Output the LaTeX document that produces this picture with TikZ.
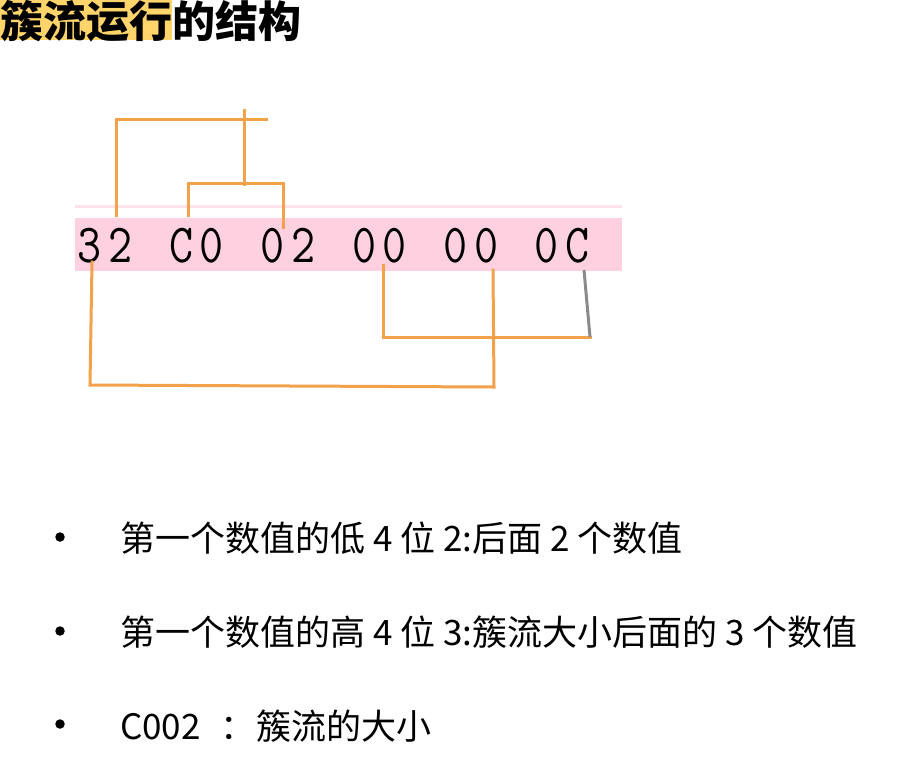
\documentclass[tikz,border=0pt]{standalone}
\usepackage{fontspec}
\usepackage{graphicx}
\setmainfont{Noto Sans CJK SC}
\definecolor{hl}{HTML}{FFD56B}
\definecolor{band}{HTML}{FFD1E0}
\definecolor{bandline}{HTML}{FFE2EB}
\definecolor{org}{HTML}{F2A24A}
\definecolor{grayln}{HTML}{8A8A8A}
\tikzset{
  conn/.style={draw=org, line width=3pt, line cap=rect, line join=miter},
  bul/.style={circle, fill=black, inner sep=0pt, minimum size=9.5pt},
  txt/.style={anchor=west, inner sep=0pt, font=\fontsize{35}{40}\selectfont},
  hexch/.style={anchor=base, inner sep=0pt, font=\ttfamily\fontsize{55}{58}\selectfont},
}
\begin{document}
\begin{tikzpicture}[x=1pt,y=-1pt]
\useasboundingbox (0,0) rectangle (917,756);
% title
\fill[hl] (0,0) rectangle (172,40);
\node[anchor=west, inner sep=0pt, font=\bfseries\fontsize{43}{48}\selectfont] (title) at (0,21) {簇流运行的结构};
% band
\fill[bandline] (75,205) rectangle (622,208);
\fill[band] (75,218) rectangle (622,271);
\foreach \c [count=\i from 0] in {3,2,C,0,0,2,0,0,0,0,0,C}{
  \pgfmathsetmacro{\hx}{90 + floor(\i/2)*91.4 + mod(\i,2)*30.5}
  \node[hexch] (h\i) at (\hx,262) {\scalebox{0.85}[1]{\c}};
}
% coordinates
\coordinate (a1) at (116,215);
\coordinate (a2) at (116,119);
\coordinate (a3) at (266,119);
\coordinate (v1) at (244,110);
\coordinate (v2) at (244,184);
\coordinate (b1) at (188,215);
\coordinate (b2) at (188,183);
\coordinate (b3) at (283,183);
\coordinate (b4) at (283,227);
\coordinate (c1) at (383,265);
\coordinate (c2) at (383,337);
\coordinate (c3) at (590,337);
\coordinate (g1) at (584,270);
\coordinate (g2) at (590,337);
\coordinate (d1) at (92,262);
\coordinate (d2) at (90,385);
\coordinate (d3) at (494,387);
\coordinate (d4) at (493,270);
% connectors
\draw[conn] (a1) -- (a2) -- (a3);
\draw[conn] (v1) -- (v2);
\draw[conn] (b1) -- (b2) -- (b3) -- (b4);
\draw[conn] (c1) -- (c2) -- (c3);
\draw[draw=grayln, line width=3pt] (g1) -- (g2);
\draw[conn] (d1) -- (d2) -- (d3) -- (d4);
% bullets
\node[bul] (p1) at (60,537) {};
\node[bul] (p2) at (60,631) {};
\node[bul] (p3) at (60,724) {};
\node[txt] (t1) at (120,538) {第一个数值的低 4 位 2:后面 2 个数值};
\node[txt] (t2) at (120,632) {第一个数值的高 4 位 3:簇流大小后面的 3 个数值};
\node[txt] (t3) at (120,726) {C002\hspace{12pt} ：\hspace{-7pt} 簇流的大小};
\end{tikzpicture}
\end{document}
